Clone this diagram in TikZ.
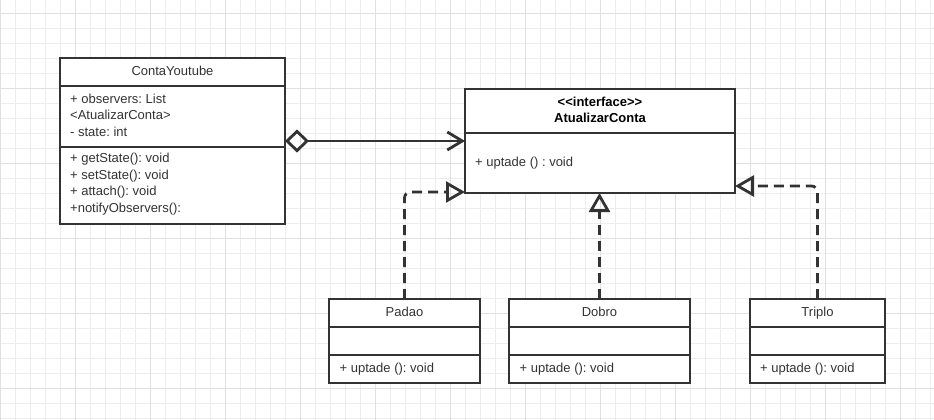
\documentclass[tikz,border=0pt]{standalone}
\usepackage{fontspec}
\setmainfont{Liberation Sans}[Ligatures=TeXOff]
\usetikzlibrary{arrows.meta}
\definecolor{ink}{HTML}{333333}
\definecolor{gridminor}{HTML}{EDEDED}
\definecolor{gridmajor}{HTML}{E0E0E0}
\begin{document}
\frenchspacing
\begin{tikzpicture}[x=1pt,y=-1pt,
  classbox/.style={draw=ink, line width=2pt, fill=white, anchor=north west, inner sep=0pt, outer sep=0pt, rectangle},
  sepline/.style={draw=ink, line width=2pt},
  txt/.style={text=ink, font=\fontsize{13}{16.5}\selectfont, inner sep=0pt},
  btxt/.style={txt, font=\fontsize{13}{16.5}\selectfont\bfseries, text=black},
  conn/.style={draw=ink, line width=2.8pt},
  realize/.style={conn, dash pattern=on 10pt off 6pt, rounded corners=6pt, -{Triangle[open, length=19pt, width=21pt]}}
]
\useasboundingbox (0,0) rectangle (934,420);
\fill[white] (0,0) rectangle (934,420);
% grid
\foreach \x in {0,15,...,930} \draw[gridminor, line width=1pt] (\x,0) -- (\x,420);
\foreach \y in {13.333,28.333,...,418.4} \draw[gridminor, line width=1pt] (0,\y) -- (934,\y);
\foreach \x in {0,75,...,900} \draw[gridmajor, line width=1pt] (\x,0) -- (\x,420);
\foreach \y in {13.333,88.333,...,400} \draw[gridmajor, line width=1pt] (0,\y) -- (934,\y);

% ContaYoutube
\node[classbox, minimum width=225pt, minimum height=166pt] (cy) at (60,58) {};
\draw[sepline] (60,86) -- (285,86);
\draw[sepline] (60,147) -- (285,147);
\node[txt, anchor=base] (cyt) at (172.5,75.5) {ContaYoutube};
\node[txt, anchor=base west] (cya1) at (70,103) {+ observers: List};
\node[txt, anchor=base west] (cya2) at (70,119.5) {<AtualizarConta>};
\node[txt, anchor=base west] (cya3) at (70,136) {- state: int};
\node[txt, anchor=base west] (cym1) at (70,162.5) {+ getState(): void};
\node[txt, anchor=base west] (cym2) at (70,179) {+ setState(): void};
\node[txt, anchor=base west] (cym3) at (70,195.5) {+ attach(): void};
\node[txt, anchor=base west] (cym4) at (70,212) {+notifyObservers():};

% AtualizarConta interface
\node[classbox, minimum width=270pt, minimum height=104pt] (ai) at (465,89) {};
\draw[sepline] (465,133) -- (735,133);
\node[btxt, anchor=base] (ait1) at (600,106.5) {<<interface>>};
\node[btxt, anchor=base] (ait2) at (600,122.3) {AtualizarConta};
\node[txt, anchor=base west] (aim) at (475,166) {+ uptade () : void};

% Padao
\node[classbox, minimum width=151pt, minimum height=84pt] (pd) at (329,299) {};
\draw[sepline] (329,327) -- (480,327);
\draw[sepline] (329,355) -- (480,355);
\node[txt, anchor=base] (pdt) at (404.5,316) {Padao};
\node[txt, anchor=base west] (pdm) at (339.5,372.5) {+ uptade (): void};

% Dobro
\node[classbox, minimum width=181pt, minimum height=84pt] (db) at (509,299) {};
\draw[sepline] (509,327) -- (690,327);
\draw[sepline] (509,355) -- (690,355);
\node[txt, anchor=base] (dbt) at (599.5,316) {Dobro};
\node[txt, anchor=base west] (dbm) at (519.5,372.5) {+ uptade (): void};

% Triplo
\node[classbox, minimum width=135pt, minimum height=84pt] (tp) at (750,299) {};
\draw[sepline] (750,327) -- (885,327);
\draw[sepline] (750,355) -- (885,355);
\node[txt, anchor=base] (tpt) at (817.5,316) {Triplo};
\node[txt, anchor=base west] (tpm) at (760,372.5) {+ uptade (): void};

% connectors
\coordinate (pa) at (465,192);
\coordinate (ta) at (735,186);
\draw[conn, {Diamond[open, length=24pt, width=23pt]}-{Straight Barb[length=15pt, width=18pt]}] (cy.east) -- (cy.east -| ai.west);
\draw[realize] (pd.north) |- (pa);
\draw[realize] (db.north) -- (db.north |- ai.south);
\draw[realize] (tp.north) |- (ta);
\end{tikzpicture}
\end{document}
